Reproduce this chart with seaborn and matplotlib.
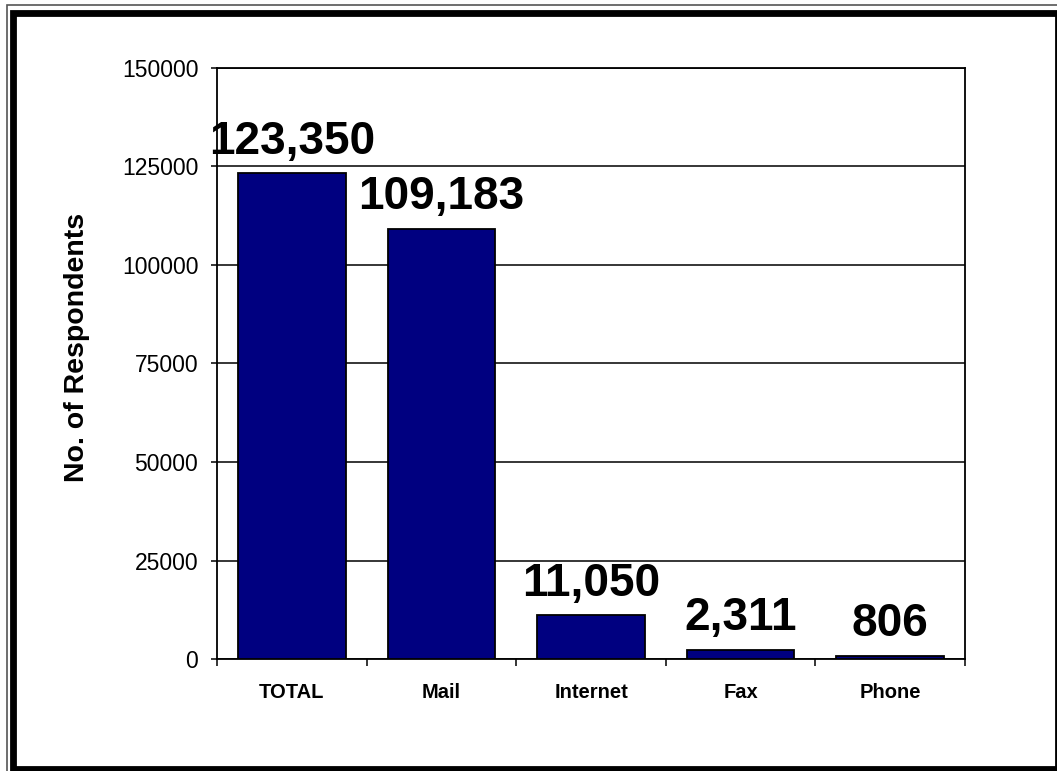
import matplotlib
matplotlib.use("Agg")
import matplotlib.pyplot as plt
from matplotlib.patches import Rectangle
from matplotlib.ticker import FixedLocator
import seaborn as sns
import pandas as pd

# Respondents by response mode
categories = ["TOTAL", "Mail", "Internet", "Fax", "Phone"]
respondents = [123350, 109183, 11050, 2311, 806]
y_ticks = [0, 25000, 50000, 75000, 100000, 125000, 150000]
y_label = "No. of Respondents"

df = pd.DataFrame({"mode": categories, "count": respondents})

sns.set_style("white")
plt.rcParams["font.family"] = ["Liberation Sans", "DejaVu Sans"]
plt.rcParams["text.color"] = "black"
plt.rcParams["axes.labelcolor"] = "black"

W, H = 1057, 771
fig = plt.figure(figsize=(W / 100, H / 100), dpi=100)
ax = fig.add_axes([217 / W, 1 - 659 / H, (965 - 217) / W, (659 - 68) / H])

sns.barplot(data=df, x="mode", y="count", order=categories, color="#000080",
            saturation=1, width=0.72, edgecolor="black", linewidth=1.3,
            ax=ax, zorder=3)

ax.set_ylim(0, 150000)
ax.set_xlim(-0.5, len(categories) - 0.5)
ax.set_yticks(y_ticks)
ax.set_yticklabels([str(t) for t in y_ticks])
ax.yaxis.grid(True, color="black", linewidth=1.1, zorder=0)
ax.set_axisbelow(True)

for s in ax.spines.values():
    s.set_visible(True)
    s.set_color("black")
    s.set_linewidth(1.3)

ax.tick_params(axis="y", which="major", direction="out", length=4.5, width=1.1,
               color="black", pad=9, labelsize=16.5, labelcolor="black", left=True)
ax.tick_params(axis="x", which="major", length=0, pad=17, labelsize=14.5,
               labelcolor="black")
for lab in ax.get_xticklabels():
    lab.set_fontweight("bold")
ax.xaxis.set_minor_locator(FixedLocator([i - 0.5 for i in range(len(categories) + 1)]))
ax.tick_params(axis="x", which="minor", direction="out", length=5, width=1.1,
               color="black", bottom=True)

ax.set_xlabel("")
ax.set_ylabel(y_label, fontsize=20.5, fontweight="bold", color="black")
ax.yaxis.set_label_coords(-0.170, 0.528)

for i, v in enumerate(respondents):
    ax.annotate(f"{v:,}", (i, v), xytext=(0, 14), textcoords="offset points",
                ha="center", va="baseline", fontsize=33, fontweight="bold",
                color="black", zorder=5)

# Double frame around the whole figure
def px_rect(x0, y0, x1, y1, **kw):
    fig.add_artist(Rectangle((x0 / W, 1 - y1 / H), (x1 - x0) / W, (y1 - y0) / H,
                             transform=fig.transFigure, fill=False, **kw))

px_rect(7, 5, 1066, 780, edgecolor="#555555", linewidth=1.2)
px_rect(13.3, 12.5, 1057.5, 769, edgecolor="black", linewidth=4.9)

fig.savefig("out.png", dpi=100)
